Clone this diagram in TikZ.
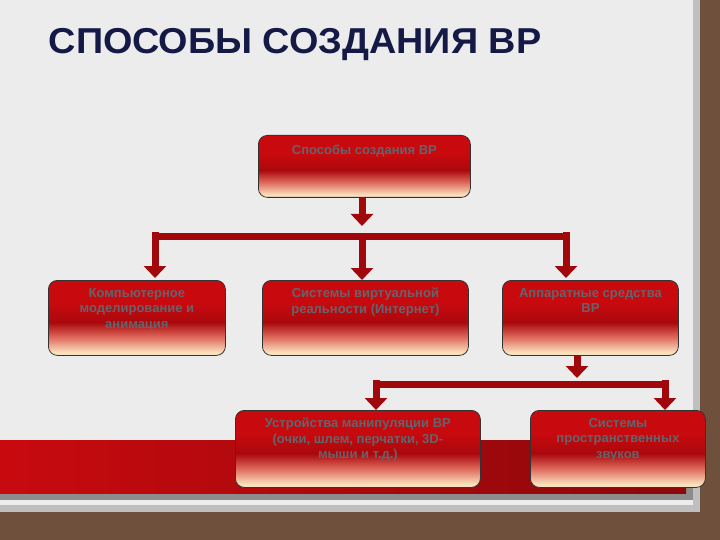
\documentclass[tikz,border=0pt]{standalone}
\usepackage{fontspec}
\setmainfont{Liberation Sans}
\usetikzlibrary{arrows.meta}
\definecolor{wood}{RGB}{110,80,60}
\definecolor{slide}{RGB}{236,236,236}
\definecolor{boxred}{RGB}{200,10,15}
\definecolor{darkred}{RGB}{170,8,12}
\definecolor{cream}{RGB}{250,225,190}
\definecolor{titleblue}{RGB}{20,25,70}
\definecolor{txt}{RGB}{100,100,108}
\pgfdeclareverticalshading{boxsh}{100bp}{color(0bp)=(cream); color(27bp)=(cream); color(37bp)=(boxred!55!cream); color(47bp)=(darkred); color(60bp)=(boxred); color(100bp)=(boxred)}
\tikzset{
  box/.style={draw=black!80, line width=0.8pt, rounded corners=9pt, shading=boxsh,
    minimum height=#1, anchor=north west},
  box/.default=75pt,
  lbl/.style={anchor=north, align=center, text=txt, font=\bfseries\fontsize{13}{15.5}\selectfont, inner sep=0pt},
  arr/.style={draw=boxred!80!black, line width=7pt, -{Triangle[width=22pt,length=12pt]}},
  bar/.style={draw=boxred!80!black, line width=7pt}
}
\begin{document}
\begin{tikzpicture}[x=1pt,y=-1pt]
\useasboundingbox (0,0) rectangle (720,540);
\fill[wood] (0,0) rectangle (720,540);
\fill[black!25] (0,0) rectangle (700,512);
\fill[slide] (0,0) rectangle (693,505);
\fill[black!45] (0,440) rectangle (693,500);
\shade[left color=boxred, right color=boxred!70!black] (0,440) rectangle (686,493);
\node[anchor=west, text=titleblue, font=\bfseries\fontsize{36}{38}\selectfont, xscale=1.05] (title) at (45,45) {СПОСОБЫ СОЗДАНИЯ ВР};
\node[box=62pt, minimum width=212pt] (top) at (258,135) {};
\node[box, minimum width=177pt] (l) at (48,280) {};
\node[box, minimum width=206pt] (m) at (262,280) {};
\node[box, minimum width=176pt] (r) at (502,280) {};
\node[box=77pt, minimum width=245pt] (bl) at (235,410) {};
\node[box=77pt, minimum width=175pt] (br) at (530,410) {};
\node[lbl] (tt) at ([yshift=-10pt]top.north) {Способы создания ВР};
\node[lbl] (lt) at ([yshift=-8pt]l.north) {Компьютерное\\ моделирование и\\ анимация};
\node[lbl] (mt) at ([yshift=-8pt]m.north) {Системы виртуальной\\ реальности (Интернет)};
\node[lbl] (rt) at ([yshift=-8pt]r.north) {Аппаратные средства\\ ВР};
\node[lbl] (blt) at ([yshift=-8pt]bl.north) {Устройства манипуляции ВР\\ (очки, шлем, перчатки, 3D-\\ мыши и т.д.)};
\node[lbl] (brt) at ([yshift=-8pt]br.north) {Системы\\ пространственных\\ звуков};
\coordinate (j1) at (362,236);
\draw[bar] (155,236) -- (566,236);
\draw[arr] (top.south -| j1) -- (362,226);
\draw[arr] (155,232) -- (155,278);
\draw[arr] (j1) -- (m.north -| j1);
\draw[arr] (566,232) -- (566,278);
\coordinate (j2) at (577,384);
\draw[bar] (376,384) -- (665,384);
\draw[arr] (r.south -| j2) -- (577,378);
\draw[arr] (376,380) -- (376,410);
\draw[arr] (665,380) -- (665,410);
\end{tikzpicture}
\end{document}
